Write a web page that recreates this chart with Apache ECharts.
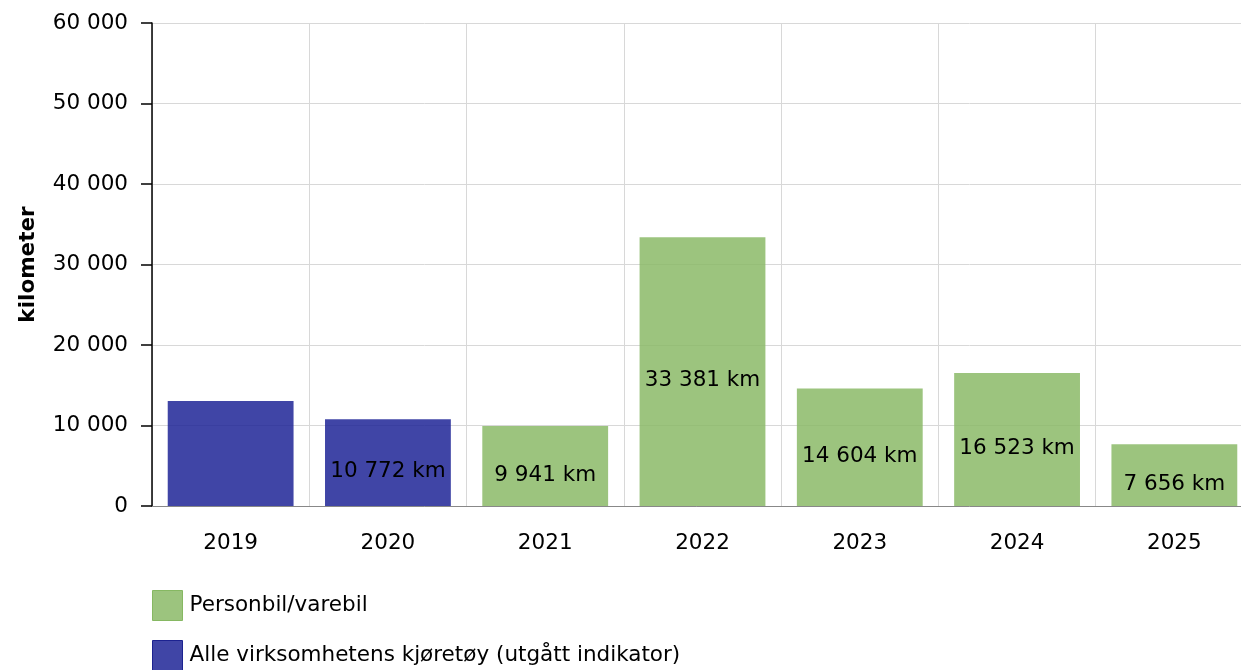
<!DOCTYPE html>
<html>
<head>
<meta charset="utf-8">
<script src="https://cdn.jsdelivr.net/npm/echarts@6/dist/echarts.min.js"></script>
<style>
  html, body { margin: 0; padding: 0; background: #fff; }
  #chart { width: 1241px; height: 670px; }
</style>
</head>
<body>
<div id="chart"></div>
<script>
// data
var years = ['2019', '2020', '2021', '2022', '2023', '2024', '2025'];
var personbil = [null, null, 9941, 33381, 14604, 16523, 7656];
var alleKjoretoy = [13050, 10772, null, null, null, null, null];
var noLabelYears = ['2019'];
var seriesNames = ['Personbil/varebil', 'Alle virksomhetens kjøretøy (utgått indikator)'];

var FONT = '"DejaVu Sans", Verdana, sans-serif';
var FS = 21.5;

function fmt(v) {
  return String(Math.round(v)).replace(/\B(?=(\d{3})+(?!\d))/g, ' ');
}

function toSeriesData(arr) {
  return arr.map(function (v, i) {
    if (v == null) return '-';
    if (noLabelYears.indexOf(years[i]) >= 0) return { value: v, label: { show: false } };
    return v;
  });
}

var barLabel = {
  show: true,
  position: 'inside',
  offset: [0, 9],
  color: '#000',
  fontFamily: FONT,
  fontSize: FS,
  formatter: function (p) { return fmt(p.value) + ' km'; }
};

// one legend box per entry so they stack vertically
function legendBox(name, top, border) {
  return {
    orient: 'vertical',
    left: 152,
    top: top,
    padding: 0,
    itemWidth: 30,
    itemHeight: 30,
    icon: 'rect',
    itemStyle: { borderColor: border, borderWidth: 1 },
    textStyle: { fontFamily: FONT, fontSize: FS, color: '#000', padding: [0, 0, 0, 2] },
    data: [name]
  };
}

var chart = echarts.init(document.getElementById('chart'));
chart.setOption({
  animation: false,
  textStyle: { fontFamily: FONT },
  grid: { left: 152, top: 23, bottom: 164, width: 1101, containLabel: false, outerBoundsMode: 'none' },
  legend: [
    legendBox(seriesNames[0], 590, '#86b862'),
    legendBox(seriesNames[1], 640, '#1c2290')
  ],
  xAxis: {
    type: 'category',
    data: years,
    axisLine: { lineStyle: { color: '#888', width: 1 } },
    axisTick: { alignWithLabel: true, length: 8, lineStyle: { color: '#888' } },
    axisLabel: { color: '#000', fontSize: FS, fontFamily: FONT, margin: 26 },
    splitLine: { show: true, lineStyle: { color: '#d8d8d8' } }
  },
  yAxis: {
    type: 'value',
    min: 0,
    max: 60000,
    interval: 10000,
    name: 'kilometer',
    nameLocation: 'middle',
    nameGap: 113,
    nameTextStyle: { color: '#000', fontSize: FS, fontWeight: 'bold', fontFamily: FONT },
    axisLine: { show: true, lineStyle: { color: '#000', width: 1.5 } },
    axisTick: { show: true, length: 11, lineStyle: { color: '#000', width: 1.5 } },
    axisLabel: { color: '#000', fontSize: FS, fontFamily: FONT, margin: 24, formatter: fmt },
    splitLine: { show: true, lineStyle: { color: '#d8d8d8' } }
  },
  series: [
    {
      name: seriesNames[0],
      type: 'bar',
      stack: 'km',
      barCategoryGap: '20%',
      data: toSeriesData(personbil),
      itemStyle: { color: 'rgba(139,186,103,0.85)' },
      label: barLabel
    },
    {
      name: seriesNames[1],
      type: 'bar',
      stack: 'km',
      barCategoryGap: '20%',
      data: toSeriesData(alleKjoretoy),
      itemStyle: { color: 'rgba(30,36,150,0.85)' },
      label: barLabel
    }
  ]
});
</script>
</body>
</html>
